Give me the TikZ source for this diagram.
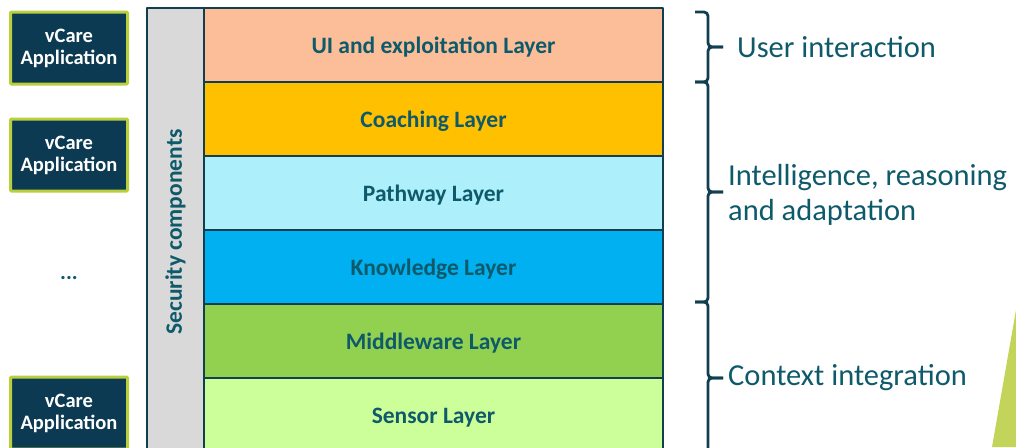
\documentclass[tikz,border=0pt]{standalone}
\usepackage{fontspec}
\setmainfont{Carlito}
\usetikzlibrary{positioning,calc}
\definecolor{edge}{HTML}{123F50}
\definecolor{label}{HTML}{0E5A6A}
\definecolor{appfill}{HTML}{0B3A52}
\definecolor{lime}{HTML}{B9CF3E}
\definecolor{uicol}{HTML}{FBBE98}
\definecolor{coachcol}{HTML}{FFC000}
\definecolor{pathcol}{HTML}{AEEFFC}
\definecolor{knowcol}{HTML}{00B0F0}
\definecolor{midcol}{HTML}{92D050}
\definecolor{sensorcol}{HTML}{CCFF99}
\definecolor{seccol}{HTML}{D9D9D9}
\definecolor{wedge}{HTML}{C2D459}
% bracket from #1 (top) to #2 (bottom), stub pointing right
\newcommand{\groupbrace}[2]{%
	\draw[group] (#1) -| ($($(#1)!0.5!(#2)$)+(13,0)$) -- ($($(#1)!0.5!(#2)$)+(28,0)$);
	\draw[group] ($($(#1)!0.5!(#2)$)+(28,0)$) -- ($($(#1)!0.5!(#2)$)+(13,0)$) |- (#2);}

\begin{document}
\begin{tikzpicture}[x=1pt,y=-1pt,
	layer/.style={draw=edge,line width=2.5pt,line join=round,minimum width=459pt,minimum height=74pt,inner sep=0pt,outer sep=0pt,text height=19pt,text depth=2pt,text=label,font=\bfseries\fontsize{23.5}{28}\selectfont},
	app/.style={draw=lime,fill=appfill,line width=3pt,rounded corners=1pt,minimum width=117pt,minimum height=72pt,inner sep=0pt,align=center,text=white,font=\bfseries\fontsize{20.5}{22}\selectfont},
	group/.style={draw=edge,line width=2.8pt,rounded corners=4pt},
	grouptext/.style={inner sep=0pt,anchor=west,align=left,text=label,font=\fontsize{30.5}{35}\selectfont}]
\useasboundingbox (0,0) rectangle (1016,447);
\clip (0,0) rectangle (1016,447);
% layer stack
\node[layer,fill=uicol,anchor=north west] (ui) at (204,8) {UI and exploitation Layer};
\node[layer,fill=coachcol,below=0pt of ui] (coach) {Coaching Layer};
\node[layer,fill=pathcol,below=0pt of coach] (path) {Pathway Layer};
\node[layer,fill=knowcol,below=0pt of path] (know) {Knowledge Layer};
\node[layer,fill=midcol,below=0pt of know] (mid) {Middleware Layer};
\node[layer,fill=sensorcol,below=0pt of mid] (sensor) {Sensor Layer};
\node[layer,fill=seccol,anchor=north east,minimum width=57pt,minimum height=448pt,text height=,text depth=] (sec) at (ui.north west) {\rotatebox{90}{Security components}};
% applications
\node[app] (app1) at (69,48) {vCare\\Application};
\node[app] (app2) at (69,155) {vCare\\Application};
\node[inner sep=0pt,text=label,font=\bfseries\fontsize{22}{24}\selectfont] (dots) at (69,278) {...};
\node[app] (app3) at (69,413) {vCare\\Application};
% groups
\coordinate (g0) at (695,12);
\coordinate (g1) at (695,82);
\coordinate (g2) at (695,302);
\coordinate (g3) at (695,454);
\groupbrace{g0}{g1}
\groupbrace{g1}{g2}
\groupbrace{g2}{g3}
\node[grouptext] (user) at (737,47) {User interaction};
\node[grouptext] (intel) at (728,195) {Intelligence, reasoning\\and adaptation};
\node[grouptext] (context) at (728,378) {Context integration};
% corner wedge
\fill[wedge] (1016,310) -- (992,447) -- (1016,447) -- cycle;
\end{tikzpicture}
\end{document}
